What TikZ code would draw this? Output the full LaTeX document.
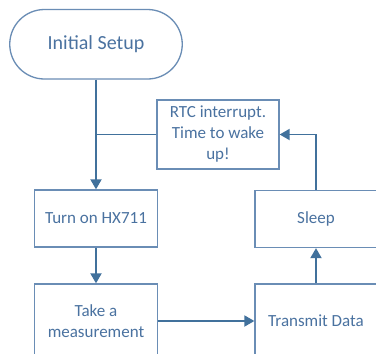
\documentclass[tikz,border=0pt]{standalone}
\usepackage{fontspec}
\setmainfont{Carlito}
\usetikzlibrary{arrows.meta}
\definecolor{lineblue}{HTML}{41719C}
\definecolor{boxblue}{HTML}{6A8DB5}
\definecolor{textblue}{HTML}{4A72A0}
\tikzset{
  flowbox/.style={draw=boxblue, line width=1.3pt, fill=white, text=textblue, align=center,
    inner sep=0pt, font=\fontsize{17}{21}\selectfont},
  conn/.style={draw=lineblue, line width=1.8pt},
  arr/.style={conn, -{Triangle[width=11pt,length=10pt]}}
}
\begin{document}
\begin{tikzpicture}[x=1pt,y=-1pt]
\useasboundingbox (0,0) rectangle (376,354);
\clip (0,0) rectangle (376,354);
\fill[white] (0,0) rectangle (376,354);
\node[flowbox, minimum width=172.5pt, minimum height=69.5pt, rounded corners=34.7pt,
  font=\fontsize{20}{24}\selectfont] (init) at (96,44.25) {Initial Setup};
\node[flowbox, minimum width=122pt, minimum height=69pt] (rtc) at (218,134.5) {RTC interrupt.\\Time to wake\\up!};
\node[flowbox, minimum width=123pt, minimum height=57pt] (turnon) at (96,218.5) {Turn on HX711};
\node[flowbox, minimum width=123pt, minimum height=74pt] (measure) at (96,321) {Take a\\measurement};
\node[flowbox, minimum width=122pt, minimum height=74pt] (transmit) at (316,321) {Transmit Data};
\node[flowbox, minimum width=122pt, minimum height=57pt] (sleep) at (316,219) {Sleep};
\coordinate (join) at (rtc.west -| init.south);
\draw[conn] (rtc.west) -- (join);
\draw[arr] (init.south) -- (turnon.north);
\draw[arr] (turnon.south) -- (measure.north);
\draw[arr] (measure.east) -- (transmit.west);
\draw[arr] (transmit.north) -- (sleep.south);
\draw[arr] (sleep.north) |- (rtc.east);
\end{tikzpicture}
\end{document}
